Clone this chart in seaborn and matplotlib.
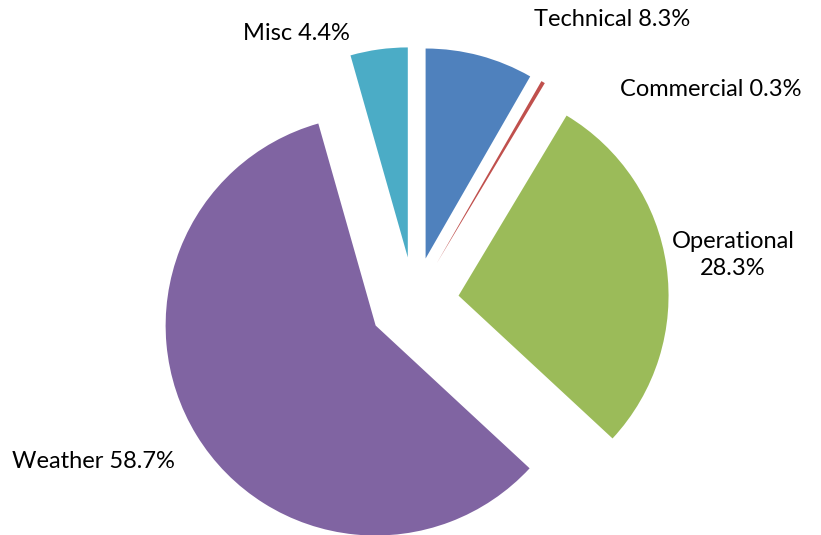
import matplotlib
matplotlib.use("Agg")
import matplotlib.pyplot as plt
import seaborn as sns

# Delay causes, share of total (%)
categories = ['Technical', 'Commercial', 'Operational', 'Weather', 'Misc']
shares = [8.3, 0.3, 28.3, 58.7, 4.4]
label_text = ['Technical 8.3%', 'Commercial 0.3%', 'Operational\n28.3%', 'Weather 58.7%', 'Misc 4.4%']
colors = ['#4F81BD', '#C0504D', '#9BBB59', '#8064A2', '#4BACC6']

sns.set_theme(style='white')
plt.rcParams['font.family'] = ['Lato', 'DejaVu Sans']

W, H = 821, 535
fig = plt.figure(figsize=(W / 100, H / 100), dpi=100)
ax = fig.add_axes([0, 0, 1, 1])

# pixel-like coordinate system, y up; explode is in data units here
cx, cy, r = 414, H - 302, 210
wedges, texts = ax.pie(
    shares,
    labels=label_text,
    colors=colors,
    startangle=90,
    counterclock=False,
    explode=[45] * len(shares),
    center=(cx, cy),
    radius=r,
    wedgeprops={'linewidth': 0},
    textprops={'fontsize': 17, 'color': 'black'},
)

# label placement as in the original (screen px)
label_pos = [(612, 20), (711, 90), (733, 255), (93, 462), (296, 33)]
for t, (x, y) in zip(texts, label_pos):
    t.set_position((x, H - y))
    t.set_ha('center')
    t.set_va('center')
    t.set_multialignment('center')
    t.set_linespacing(1.4)

ax.set_xlim(0, W)
ax.set_ylim(0, H)
ax.set_aspect('equal')
ax.axis('off')

fig.savefig('out.png', dpi=100)
